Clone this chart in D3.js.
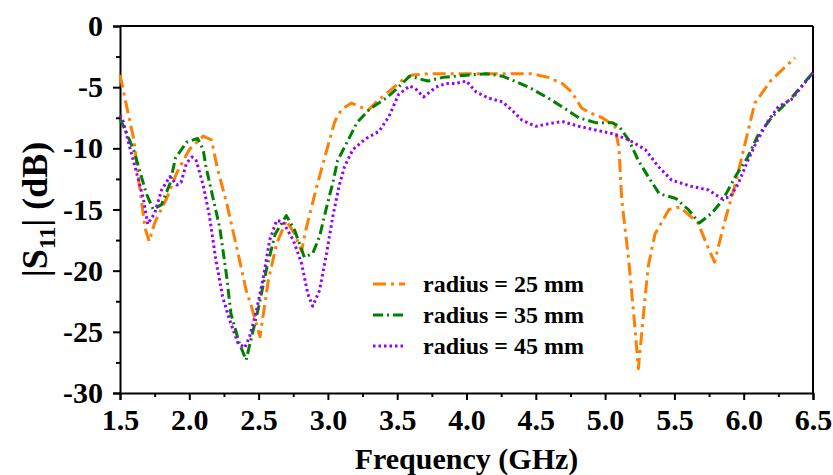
<!DOCTYPE html>
<html><head><meta charset="utf-8">
<script src="https://cdn.jsdelivr.net/npm/d3@7"></script>
<style>body{margin:0;background:#fff}svg{display:block}text{font-family:"Liberation Serif","Times New Roman",serif;font-weight:bold;fill:#000}</style>
</head><body><svg id="c" width="833" height="475"></svg>
<script>
const xTicks = [1.5,2.0,2.5,3.0,3.5,4.0,4.5,5.0,5.5,6.0,6.5];
const yTicks = [0,-5,-10,-15,-20,-25,-30];
const seriesNames = ["radius = 25 mm","radius = 35 mm","radius = 45 mm"];
const seriesColors = ["#ff7f00","#008000","#9400ff"];

const freq25 = [1.5,1.56,1.6,1.64,1.68,1.71,1.75,1.84,1.91,2.0,2.1,2.16,2.2,2.27,2.34,2.41,2.45,2.51,2.57,2.63,2.70,2.76,2.81,2.84,2.92,3.0,3.05,3.1,3.17,3.29,3.36,3.54,3.61,3.73,3.97,4.21,4.47,4.59,4.69,4.76,4.83,4.89,4.98,5.07,5.10,5.12,5.17,5.21,5.24,5.28,5.31,5.36,5.46,5.54,5.67,5.75,5.79,5.86,5.94,6.01,6.08,6.2,6.37];
const s11_25 = [-4.0,-7.2,-9.3,-13.0,-16.5,-17.6,-16.1,-14.0,-12.0,-10.1,-9.0,-9.3,-11.5,-14.5,-18.0,-21.6,-23.0,-25.4,-20.8,-17.8,-15.9,-17.0,-18.4,-16.7,-13.1,-9.8,-7.8,-6.8,-6.3,-6.9,-6.1,-4.4,-4.0,-3.9,-3.9,-3.9,-3.9,-4.2,-4.7,-5.4,-6.7,-7.1,-7.5,-8.2,-10.0,-14.2,-19.1,-24.0,-28.0,-23.2,-19.7,-17.0,-15.0,-14.8,-16.1,-18.3,-19.3,-16.1,-12.9,-9.6,-6.3,-4.4,-2.6];

const freq35 = [1.5,1.55,1.6,1.69,1.74,1.80,1.86,1.90,1.98,2.06,2.10,2.12,2.17,2.22,2.27,2.30,2.36,2.41,2.45,2.50,2.56,2.62,2.70,2.76,2.83,2.89,2.94,2.98,3.04,3.07,3.12,3.21,3.30,3.42,3.49,3.59,3.72,3.83,4.02,4.14,4.26,4.45,4.59,4.69,4.81,4.93,5.05,5.10,5.17,5.24,5.31,5.39,5.51,5.60,5.68,5.77,5.85,5.94,6.03,6.10,6.20,6.35,6.5];
const s11_35 = [-7.6,-8.8,-10.2,-13.7,-15.0,-14.6,-12.9,-10.8,-9.5,-9.2,-10.1,-11.5,-14.0,-16.5,-20.5,-23.5,-25.9,-27.3,-25.4,-23.0,-19.7,-17.0,-15.5,-16.7,-18.9,-18.6,-17.2,-15.3,-12.6,-11.0,-9.9,-7.9,-6.8,-5.9,-5.2,-4.1,-4.5,-4.2,-4.0,-3.9,-4.1,-5.0,-5.9,-6.6,-7.5,-7.9,-7.9,-8.2,-9.3,-11.0,-12.3,-13.7,-14.1,-15.0,-16.1,-15.3,-14.2,-12.3,-10.7,-9.0,-7.5,-5.8,-3.8];

const freq45 = [1.5,1.52,1.57,1.62,1.67,1.70,1.75,1.80,1.86,1.91,1.94,1.98,2.02,2.05,2.10,2.145,2.19,2.24,2.29,2.35,2.40,2.435,2.48,2.53,2.58,2.63,2.675,2.75,2.81,2.855,2.89,2.94,2.99,3.035,3.08,3.12,3.18,3.275,3.37,3.44,3.51,3.59,3.63,3.69,3.78,3.85,3.92,4.0,4.07,4.16,4.26,4.33,4.40,4.50,4.59,4.69,4.81,4.93,5.05,5.17,5.29,5.385,5.48,5.62,5.745,5.84,5.90,5.96,6.03,6.10,6.175,6.25,6.345,6.5];
const s11_45 = [-7.3,-7.7,-9.9,-12.0,-14.2,-16.2,-15.3,-13.4,-12.3,-13.0,-12.8,-11.2,-10.7,-11.0,-13.0,-15.5,-19.0,-22.1,-24.0,-25.9,-26.3,-25.4,-23.5,-20.8,-17.5,-15.9,-16.0,-17.5,-19.4,-21.9,-22.9,-21.6,-18.6,-15.6,-13.1,-11.5,-10.1,-9.2,-8.6,-7.4,-5.6,-4.9,-5.1,-5.8,-5.0,-4.7,-4.7,-4.5,-5.4,-5.9,-6.2,-6.9,-7.7,-8.2,-8.0,-7.8,-8.2,-8.5,-8.8,-9.3,-10.1,-11.5,-12.6,-13.1,-13.4,-14.1,-14.0,-12.9,-11.0,-9.3,-7.8,-6.6,-6.0,-3.8];

const dashes = ["13,5,3,5","10,4,2,4","2.5,3"];
const seriesF = [freq25,freq35,freq45];
const seriesV = [s11_25,s11_35,s11_45];

const svg = d3.select("#c");
const L=120, R=813, T=26, B=393;
const x = d3.scaleLinear().domain([1.5,6.5]).range([L,R]);
const y = d3.scaleLinear().domain([-30,0]).range([B,T]);

svg.append("line").attr("x1",L).attr("x2",R).attr("y1",T).attr("y2",T).attr("stroke","#000").attr("stroke-width",2);
svg.append("line").attr("x1",R).attr("x2",R).attr("y1",T).attr("y2",B).attr("stroke","#000").attr("stroke-width",2);

const xMinor = d3.range(1.75,6.5,0.5);
const yMinor = d3.range(-27.5,0,5);
const gx = svg.append("g").attr("transform",`translate(0,${B})`)
  .call(d3.axisBottom(x).tickValues(xTicks).tickFormat(d3.format(".1f")).tickSize(7).tickPadding(6));
svg.append("g").attr("transform",`translate(0,${B})`)
  .call(d3.axisBottom(x).tickValues(xMinor).tickFormat("").tickSize(4)).select(".domain").remove();
const gy = svg.append("g").attr("transform",`translate(${L},0)`)
  .call(d3.axisLeft(y).tickValues(yTicks).tickFormat(d=>d===0?"0":"-"+Math.abs(d)).tickSize(7).tickPadding(10));
svg.append("g").attr("transform",`translate(${L},0)`)
  .call(d3.axisLeft(y).tickValues(yMinor).tickFormat("").tickSize(4)).select(".domain").remove();
svg.selectAll(".domain").attr("stroke-width",2).attr("stroke","#000");
svg.selectAll(".tick line").attr("stroke-width",2).attr("stroke","#000");
gx.selectAll("text").style("font-size","30px").attr("font-family",null).attr("dy","0.8em");
gy.selectAll("text").style("font-size","30px").attr("font-family",null);

const line = d3.line().x(d=>x(d[0])).y(d=>y(d[1]));
seriesF.forEach((fs,i)=>{
  const pts = fs.map((f,j)=>[f,seriesV[i][j]]);
  svg.append("path").datum(pts).attr("d",line).attr("fill","none")
    .attr("stroke",seriesColors[i]).attr("stroke-width",3)
    .attr("stroke-dasharray",dashes[i]).attr("stroke-linejoin","round");
});

const legY = [284,315,346];
seriesNames.forEach((n,i)=>{
  svg.append("line").attr("x1",373).attr("x2",405).attr("y1",legY[i]).attr("y2",legY[i])
    .attr("stroke",seriesColors[i]).attr("stroke-width",3).attr("stroke-dasharray",dashes[i]);
  svg.append("text").attr("x",423).attr("y",legY[i]+8).style("font-size","24px").text(n);
});

svg.append("text").attr("x",(L+R)/2).attr("y",469).attr("text-anchor","middle").style("font-size","30px").text("Frequency (GHz)");
const yt = svg.append("text").attr("transform",`translate(47,${(T+B)/2}) rotate(-90)`).attr("text-anchor","middle").style("font-size","36px");
yt.append("tspan").text("|S");
yt.append("tspan").attr("dy",8).style("font-size","24px").text("11");
yt.append("tspan").attr("dy",-8).text("| (dB)");
</script></body></html>
